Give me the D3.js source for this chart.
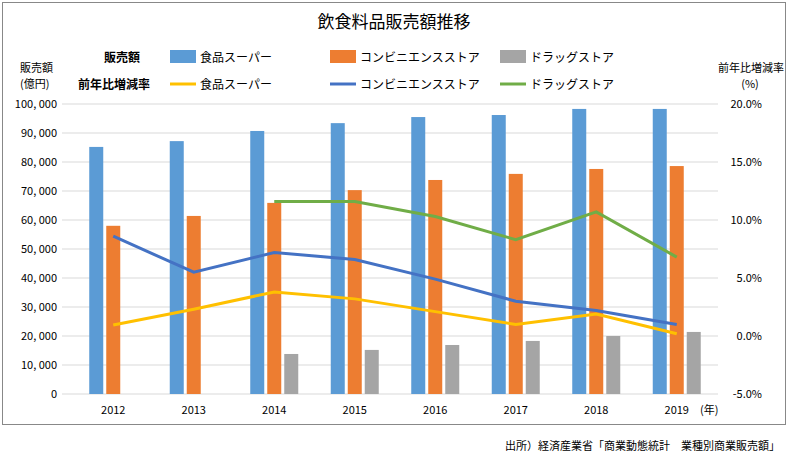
<!DOCTYPE html>
<html><head><meta charset="utf-8">
<script src="https://cdn.jsdelivr.net/npm/d3@7"></script>
<style>body{margin:0;background:#fff}text{font-family:"Noto Sans CJK JP","Noto Sans",sans-serif}</style>
</head><body>
<svg id="c" width="788" height="459"></svg>
<script>
const years = ["2012","2013","2014","2015","2016","2017","2018","2019"];
const superSales = [85200, 87200, 90700, 93400, 95500, 96200, 98300, 98300];
const convSales = [58000, 61400, 65900, 70300, 73800, 75900, 77600, 78600];
const drugSales = [null, null, 13800, 15200, 16900, 18300, 20000, 21400];
const superRate = [0.95, 2.3, 3.8, 3.2, 2.1, 1.0, 1.9, 0.2];
const convRate = [8.6, 5.5, 7.2, 6.6, 4.9, 3.0, 2.2, 1.0];
const drugRate = [null, null, 11.6, 11.6, 10.3, 8.3, 10.7, 6.8];
const leftTicks = d3.range(0, 100001, 10000);
const rightTicks = [-5, 0, 5, 10, 15, 20];

const svg = d3.select("#c");
const L = 62, R = 718, T = 104, B = 394;
svg.append("rect").attr("x",2.5).attr("y",2.5).attr("width",783).attr("height",422).attr("fill","none").attr("stroke","#888");
const x = d3.scaleBand().domain(years).range([73, 717]);
const y = d3.scaleLinear().domain([0, 100000]).range([B, T]);
const y2 = d3.scaleLinear().domain([-5, 20]).range([B, T]);

svg.append("g").selectAll("line").data(leftTicks).join("line")
  .attr("x1",L).attr("x2",R).attr("y1",d=>y(d)).attr("y2",d=>y(d)).attr("stroke","#d9d9d9");
svg.append("g").selectAll("text").data(leftTicks).join("text")
  .attr("x",57).attr("y",d=>y(d)+4).attr("text-anchor","end").attr("font-size",11).text(d=>d3.format(",")(d).replace(",", ", "));
svg.append("g").selectAll("text").data(rightTicks).join("text")
  .attr("x",762).attr("y",d=>y2(d)+4).attr("text-anchor","end").attr("font-size",11).text(d=>d.toFixed(1)+"%");
svg.append("g").selectAll("text").data(years).join("text")
  .attr("x",d=>x(d)+x.bandwidth()/2).attr("y",414).attr("text-anchor","middle").attr("font-size",11).text(d=>d);
svg.append("text").attr("x",700).attr("y",414).attr("font-size",11).text("(年)");

const bw = 14;
const series = [[superSales,"#5b9bd5",-17],[convSales,"#ed7d31",0],[drugSales,"#a5a5a5",17]];
series.forEach(([vals,col,off])=>{
  svg.append("g").selectAll("rect").data(years.map((yr,i)=>({yr,v:vals[i]})).filter(d=>d.v!=null)).join("rect")
    .attr("x",d=>x(d.yr)+x.bandwidth()/2+off-bw/2).attr("width",bw)
    .attr("y",d=>y(d.v)).attr("height",d=>B-y(d.v)).attr("fill",col);
});
const lines = [[superRate,"#ffc000"],[convRate,"#4472c4"],[drugRate,"#70ad47"]];
lines.forEach(([vals,col])=>{
  const pts = years.map((yr,i)=>[x(yr)+x.bandwidth()/2, vals[i]]).filter(d=>d[1]!=null);
  svg.append("path").attr("d",d3.line().x(d=>d[0]).y(d=>y2(d[1]))(pts))
    .attr("fill","none").attr("stroke",col).attr("stroke-width",3);
});

svg.append("text").attr("x",394).attr("y",28).attr("text-anchor","middle").attr("font-size",17).text("飲食料品販売額推移");
svg.append("text").attr("x",20).attr("y",72).attr("font-size",11).text("販売額");
svg.append("text").attr("x",20).attr("y",88).attr("font-size",11).text("(億円)");
svg.append("text").attr("x",784).attr("y",72).attr("text-anchor","end").attr("font-size",11).text("前年比増減率");
svg.append("text").attr("x",750).attr("y",88).attr("text-anchor","middle").attr("font-size",11).text("(%)");

const names = ["食品スーパー","コンビニエンスストア","ドラッグストア"];
const lx = [170, 330, 500];
svg.append("text").attr("x",104).attr("y",62).attr("font-size",12).attr("font-weight","bold").text("販売額");
svg.append("text").attr("x",78).attr("y",89).attr("font-size",12).attr("font-weight","bold").text("前年比増減率");
names.forEach((n,i)=>{
  svg.append("rect").attr("x",lx[i]).attr("y",50).attr("width",26).attr("height",13).attr("fill",series[i][1]);
  svg.append("text").attr("x",lx[i]+30).attr("y",62).attr("font-size",12).text(n);
  svg.append("line").attr("x1",lx[i]).attr("x2",lx[i]+26).attr("y1",84).attr("y2",84).attr("stroke",lines[i][1]).attr("stroke-width",3);
  svg.append("text").attr("x",lx[i]+30).attr("y",89).attr("font-size",12).text(n);
});
svg.append("text").attr("x",780).attr("y",450).attr("text-anchor","end").attr("font-size",11).text("出所）経済産業省「商業動態統計　業種別商業販売額」");
</script>
</body></html>
